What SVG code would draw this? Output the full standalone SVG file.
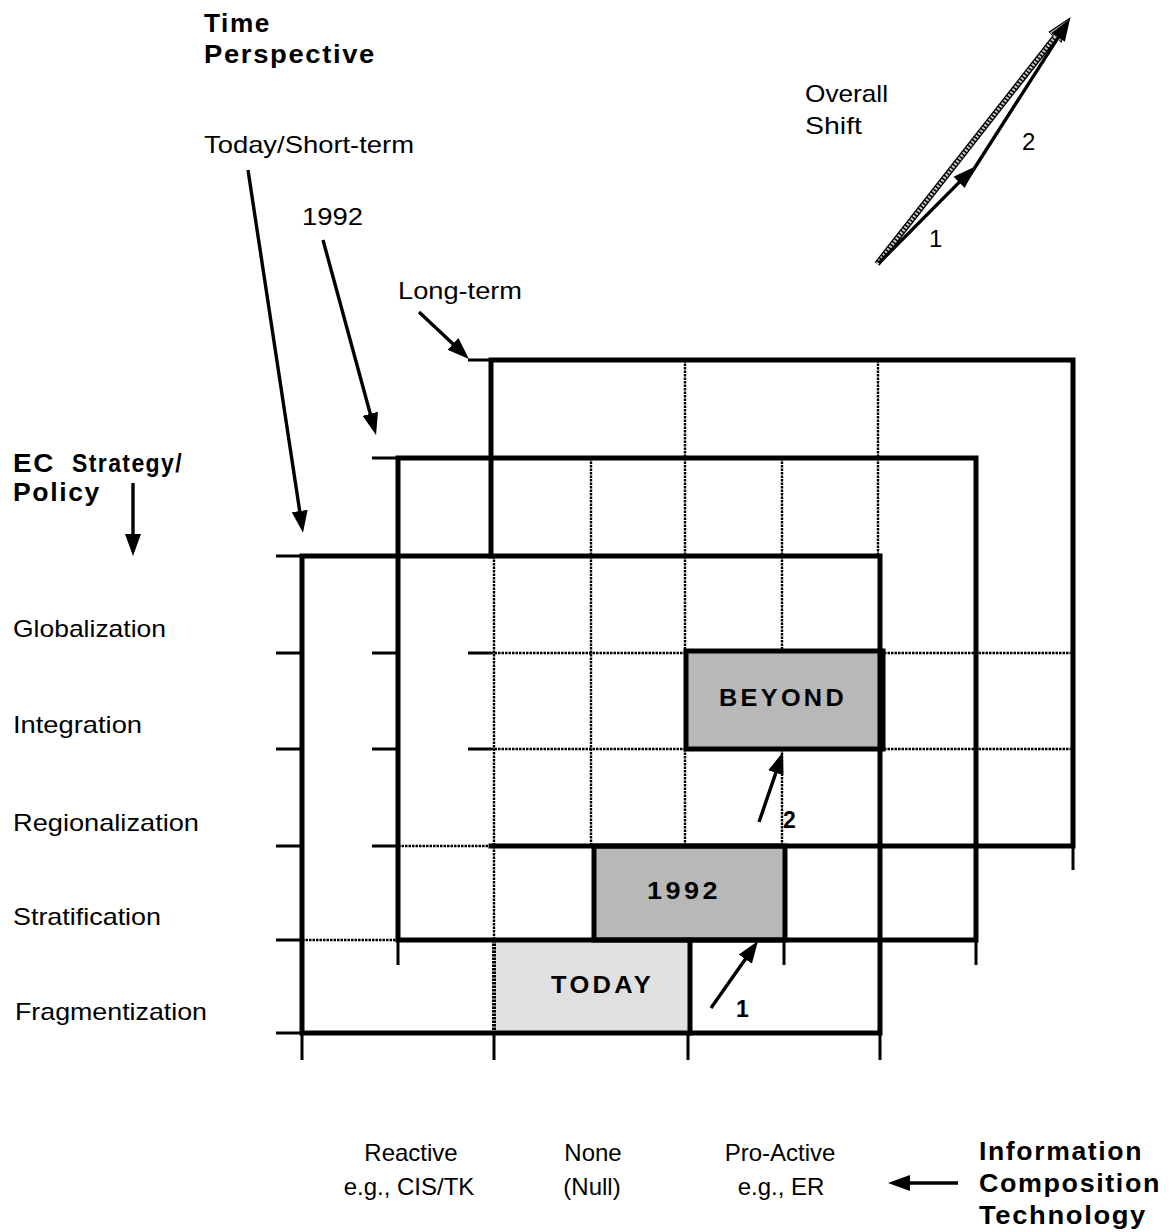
<svg xmlns="http://www.w3.org/2000/svg" width="1176" height="1232" viewBox="0 0 1176 1232">
  <style>
    text { font-family: "Liberation Sans", Arial, Helvetica, sans-serif; fill: #000; }
    .lbl { font-size: 24px; }
    .mid { font-size: 24px; text-anchor: middle; }
    .head { font-size: 25px; font-weight: bold; letter-spacing: 1.5px; }
    .cell { font-size: 23px; font-weight: bold; letter-spacing: 3px; }
    .num { font-size: 23px; font-weight: bold; }
    .thick { stroke: #000; stroke-width: 5; fill: none; stroke-linecap: square; }
    .dot { stroke: #000; stroke-width: 2.4; fill: none; stroke-dasharray: 2.5 1; }
    .tick { stroke: #000; stroke-width: 3; fill: none; }
    .arrow { stroke: #000; stroke-width: 3.4; fill: none; marker-end: url(#head); }
  </style>
  <defs>
    <marker id="head" markerUnits="userSpaceOnUse" viewBox="0 -9 24 18" refX="2" refY="0" markerWidth="24" markerHeight="18" orient="auto">
      <path d="M0,-8 L22,0 L0,8 Z" fill="#000"/>
    </marker>
    <marker id="head-grey" markerUnits="userSpaceOnUse" viewBox="0 -10 28 20" refX="2" refY="0" markerWidth="28" markerHeight="20" orient="auto">
      <path d="M0,-8 L24,0 L0,8 Z" fill="#a8a8a8" stroke="#000" stroke-width="1.2"/>
    </marker>
  </defs>

  <rect width="1176" height="1232" fill="#fff"/>

  <!-- shaded cells, filled first so grid lines sit on top -->
  <g id="cell-fills">
    <rect x="494" y="940" width="196" height="93" fill="#e0e0e0"/>
    <rect x="594" y="846" width="191" height="94" fill="#b8b8b8"/>
    <rect x="686" y="651" width="197" height="98" fill="#b8b8b8"/>
  </g>

  <!-- long-term grid -->
  <g id="grid-long-term">
    <path class="thick" d="M491,360 H1073 V846 H491 M491,360 V556"/>
    <path class="dot" d="M685,360 V651 M685,749 V846 M878,360 V556 M491,653 H685 M884,653 H1073 M491,749 H685 M884,749 H1073 M494,556 V846"/>
    <path class="tick" d="M468,360 H491 M468,653 H491 M468,749 H491 M1073,846 V870"/>
  </g>

  <!-- 1992 grid -->
  <g id="grid-1992">
    <path class="thick" d="M398,458 H976 V940 H398 Z"/>
    <path class="dot" d="M591,458 V846 M782,458 V651 M782,749 V846 M398,846 H491"/>
    <path class="tick" d="M372,458 H398 M372,653 H398 M372,749 H398 M372,846 H398 M398,940 V965 M784,940 V965 M976,940 V965"/>
  </g>

  <!-- today / short-term grid -->
  <g id="grid-short-term">
    <path class="thick" d="M302,556 H880 V1033 H302 Z"/>
    <path class="dot" d="M302,940 H398 M494,846 V940"/>
    <path class="tick" d="M276,556 H302 M276,653 H302 M276,749 H302 M276,846 H302 M276,940 H302 M276,1033 H302 M302,1033 V1060 M494,1033 V1060 M688,1033 V1060 M880,1033 V1060"/>
  </g>

  <!-- highlighted cells -->
  <g id="cell-today">
    <path d="M494,940 V1033" stroke="#000" stroke-width="4" stroke-dasharray="2.5 1" fill="none"/>
    <path class="thick" d="M690,940 V1033"/>
    <text class="cell" x="551" y="993" textLength="103" lengthAdjust="spacingAndGlyphs">TODAY</text>
  </g>
  <g id="cell-1992">
    <rect class="thick" x="594" y="846" width="191" height="94"/>
    <text class="cell" x="647" y="899" textLength="74" lengthAdjust="spacingAndGlyphs">1992</text>
  </g>
  <g id="cell-beyond">
    <rect class="thick" x="686" y="651" width="197" height="98"/>
    <text class="cell" x="719" y="706" textLength="128" lengthAdjust="spacingAndGlyphs">BEYOND</text>
  </g>

  <!-- arrows -->
  <g id="connectors">
    <line class="arrow" x1="248" y1="170" x2="300" y2="513"/>
    <line class="arrow" x1="323" y1="240" x2="370.8" y2="415.7"/>
    <line class="arrow" x1="419" y1="312" x2="454.4" y2="345.3"/>
    <line class="arrow" x1="133" y1="483" x2="133" y2="536"/>
    <line class="arrow" x1="958" y1="1183" x2="908" y2="1183"/>
    <line class="arrow" x1="759" y1="822" x2="776.5" y2="770.9"/>
    <line class="arrow" x1="711" y1="1008" x2="746.5" y2="957.4"/>
    <line x1="877" y1="264" x2="1056" y2="35.8" stroke="#000" stroke-width="6" marker-end="url(#head-grey)"/>
    <line x1="877" y1="264" x2="1056" y2="35.8" stroke="#c4c4c4" stroke-width="3.4" stroke-dasharray="2 1.5"/>
    <line class="arrow" x1="879" y1="263" x2="960.6" y2="180.9"/>
    <line class="arrow" x1="965" y1="183" x2="1059.2" y2="35.8"/>
  </g>

  <!-- axis titles and labels -->
  <g id="time-perspective">
    <text class="head" x="204" y="32" textLength="67" lengthAdjust="spacingAndGlyphs">Time</text>
    <text class="head" x="204" y="63" textLength="172" lengthAdjust="spacingAndGlyphs">Perspective</text>
    <text class="lbl" x="204" y="153" textLength="210" lengthAdjust="spacingAndGlyphs">Today/Short-term</text>
    <text class="lbl" x="302" y="225" textLength="61" lengthAdjust="spacingAndGlyphs">1992</text>
    <text class="lbl" x="398" y="299" textLength="124" lengthAdjust="spacingAndGlyphs">Long-term</text>
  </g>

  <g id="overall-shift">
    <text class="lbl" x="805" y="102" textLength="83" lengthAdjust="spacingAndGlyphs">Overall</text>
    <text class="lbl" x="805" y="134" textLength="57" lengthAdjust="spacingAndGlyphs">Shift</text>
    <text class="lbl" x="1022" y="150">2</text>
    <text class="lbl" x="929" y="247">1</text>
  </g>

  <g id="ec-strategy">
    <text class="head" y="472"><tspan x="13" textLength="42" lengthAdjust="spacingAndGlyphs">EC</tspan><tspan x="72" textLength="111" lengthAdjust="spacingAndGlyphs">Strategy/</tspan></text>
    <text class="head" x="13" y="501" textLength="88" lengthAdjust="spacingAndGlyphs">Policy</text>
    <text class="lbl" x="13" y="637" textLength="153" lengthAdjust="spacingAndGlyphs">Globalization</text>
    <text class="lbl" x="13" y="733" textLength="129" lengthAdjust="spacingAndGlyphs">Integration</text>
    <text class="lbl" x="13" y="831" textLength="186" lengthAdjust="spacingAndGlyphs">Regionalization</text>
    <text class="lbl" x="13" y="925" textLength="148" lengthAdjust="spacingAndGlyphs">Stratification</text>
    <text class="lbl" x="15" y="1020" textLength="192" lengthAdjust="spacingAndGlyphs">Fragmentization</text>
  </g>

  <g id="step-labels">
    <text class="num" x="783" y="828">2</text>
    <text class="num" x="736" y="1017">1</text>
  </g>

  <g id="information-technology">
    <text class="mid" x="411" y="1161">Reactive</text>
    <text class="mid" x="409" y="1195">e.g., CIS/TK</text>
    <text class="mid" x="593" y="1161">None</text>
    <text class="mid" x="592" y="1195">(Null)</text>
    <text class="mid" x="780" y="1161">Pro-Active</text>
    <text class="mid" x="781" y="1195">e.g., ER</text>
    <text class="head" x="979" y="1160" textLength="164" lengthAdjust="spacingAndGlyphs">Information</text>
    <text class="head" x="979" y="1192" textLength="182" lengthAdjust="spacingAndGlyphs">Composition</text>
    <text class="head" x="979" y="1224" textLength="168" lengthAdjust="spacingAndGlyphs">Technology</text>
  </g>
</svg>
